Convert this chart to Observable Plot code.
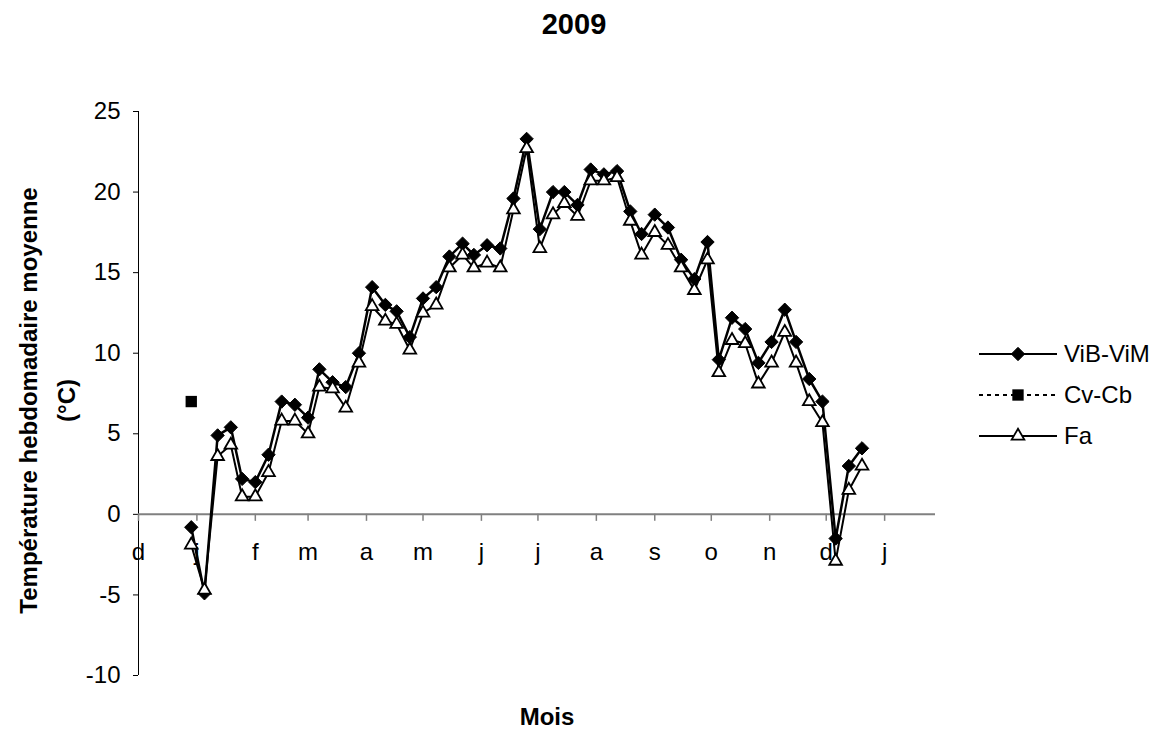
<!DOCTYPE html>
<html><head><meta charset="utf-8">
<script src="https://cdn.jsdelivr.net/npm/d3@7"></script>
<script src="https://cdn.jsdelivr.net/npm/@observablehq/plot@0.6"></script>
<style>
body{margin:0;background:#fff;font-family:"Liberation Sans",Arial,sans-serif;}
#wrap{position:relative;width:1169px;height:733px;overflow:hidden;background:#fff;}
#title{position:absolute;left:574px;top:24px;transform:translate(-50%,-50%);font-weight:bold;font-size:29px;white-space:nowrap;}
#chart{position:absolute;left:0;top:50px;}
.lrow{position:absolute;left:977px;height:30px;display:flex;align-items:center;font-size:24px;color:#000;white-space:nowrap;}
.lrow svg{margin-right:5px;}
</style></head><body>
<div id="wrap"><div id="title">2009</div><div id="chart"></div><div id="legend"></div></div>
<script>
// Weekly dates (read from x positions)
const dates = ["2008-12-29","2009-01-05","2009-01-12","2009-01-19","2009-01-25","2009-02-01","2009-02-08","2009-02-15","2009-02-22","2009-03-01",
"2009-03-07","2009-03-14","2009-03-21","2009-03-28","2009-04-04","2009-04-11","2009-04-17","2009-04-24","2009-05-01","2009-05-08",
"2009-05-15","2009-05-22","2009-05-28","2009-06-04","2009-06-11","2009-06-18","2009-06-25","2009-07-02","2009-07-09","2009-07-15",
"2009-07-22","2009-07-29","2009-08-05","2009-08-12","2009-08-19","2009-08-25","2009-09-01","2009-09-08","2009-09-15","2009-09-22",
"2009-09-29","2009-10-05","2009-10-12","2009-10-19","2009-10-26","2009-11-02","2009-11-09","2009-11-15","2009-11-22","2009-11-29",
"2009-12-06","2009-12-13","2009-12-20"];
const vibVim = [-0.8,-4.9,4.9,5.4,2.2,2.0,3.7,7.0,6.8,6.0,
9.0,8.2,7.9,10.0,14.1,13.0,12.6,11.0,13.4,14.1,
16.0,16.8,16.1,16.7,16.5,19.6,23.3,17.7,20.0,20.0,
19.2,21.4,21.1,21.3,18.8,17.4,18.6,17.8,15.8,14.6,
16.9,9.6,12.2,11.5,9.4,10.7,12.7,10.7,8.4,7.0,
-1.5,3.0,4.1];
const fa = [-1.9,-4.7,3.6,4.3,1.1,1.1,2.6,5.8,5.8,5.0,
7.9,7.8,6.6,9.4,12.9,12.0,11.8,10.2,12.5,13.0,
15.3,16.1,15.3,15.6,15.3,18.9,22.7,16.5,18.6,19.3,
18.5,20.7,20.7,20.9,18.2,16.1,17.5,16.7,15.3,13.9,
15.8,8.8,10.8,10.6,8.1,9.4,11.3,9.4,7.0,5.7,
-2.9,1.5,3.0];
const cvCbDates = ["2008-12-29"];
const cvCb = [7.0];
const monthTicks = ["2008-12-01","2009-01-01","2009-02-01","2009-03-01","2009-04-01","2009-05-01","2009-06-01",
"2009-07-01","2009-08-01","2009-09-01","2009-10-01","2009-11-01","2009-12-01","2010-01-01"];
const monthLabels = ["d","j","f","m","a","m","j","j","a","s","o","n","d","j"];
const yTicks = [-10,-5,0,5,10,15,20,25];
const seriesNames = ["ViB-ViM","Cv-Cb","Fa"];
const xDomain = ["2008-12-01","2010-01-28"];

const vibRows = dates.map((d,i)=>({date:new Date(d), value:vibVim[i]}));
const faRows = dates.map((d,i)=>({date:new Date(d), value:fa[i]}));
const cvRows = cvCbDates.map((d,i)=>({date:new Date(d), value:cvCb[i]}));
const tickDates = monthTicks.map(d=>new Date(d));

const font = "Liberation Sans, Arial, sans-serif";
const R = {diamond:6, square:6.4, triangle:4.7};

const chart = Plot.plot({
  width:1169, height:683,
  marginLeft:138, marginRight:234, marginTop:61, marginBottom:58,
  style:{fontFamily:font, fontSize:"24px", color:"black", background:"white", overflow:"visible"},
  x:{type:"utc", domain:xDomain.map(d=>new Date(d)), axis:null},
  y:{domain:[-10,25]},
  marks:[
    Plot.ruleX([new Date(xDomain[0])], {stroke:"black", strokeWidth:1}),
    Plot.axisY(yTicks, {anchor:"left", tickSize:5, tickPadding:13, fontSize:24, tickFormat:d=>String(d), label:null, stroke:"black"}),
    Plot.ruleY([0], {stroke:"#808080", strokeWidth:2}),
    Plot.ruleX(tickDates, {x:d=>d, y1:0, y2:0, insetBottom:-7, stroke:"#808080", strokeWidth:1.5}),
    Plot.text(tickDates, {x:d=>d, y:0, text:(d,i)=>monthLabels[i], dy:38, fontSize:24, lineAnchor:"middle", fill:"black"}),
    Plot.text(["Température hebdomadaire moyenne\n(°C)"], {text:d=>d, frameAnchor:"left", rotate:-90, dx:-95, dy:7, textAnchor:"middle", lineAnchor:"middle", lineHeight:1.6, fontWeight:"bold", fontSize:24, fill:"black"}),
    Plot.text(["Mois"], {text:d=>d, frameAnchor:"bottom", dx:10, dy:42, lineAnchor:"middle", fontWeight:"bold", fontSize:24, fill:"black"}),
    Plot.line(vibRows, {x:"date", y:"value", stroke:"black", strokeWidth:2.5}),
    Plot.dot(vibRows, {x:"date", y:"value", symbol:"diamond2", r:R.diamond, fill:"black", stroke:"black", strokeWidth:1}),
    Plot.dot(cvRows, {x:"date", y:"value", symbol:"square", r:R.square, fill:"black", stroke:"none"}),
    Plot.line(faRows, {x:"date", y:"value", stroke:"black", strokeWidth:2}),
    Plot.dot(faRows, {x:"date", y:"value", symbol:"triangle", r:R.triangle, fill:"white", stroke:"black", strokeWidth:1.8})
  ]
});
document.getElementById("chart").appendChild(chart);

// Legend
const legendItems = [
  {name:seriesNames[0], dash:null, sym:d3.symbolDiamond2, r:R.diamond, fill:"black", sw:1},
  {name:seriesNames[1], dash:"4,4", sym:d3.symbolSquare, r:R.square, fill:"black", sw:0},
  {name:seriesNames[2], dash:null, sym:d3.symbolTriangle, r:R.triangle, fill:"white", sw:1.8}
];
const rowY = [354, 395, 436];
const legend = d3.select("#legend");
legendItems.forEach((it,i)=>{
  const row = legend.append("div").attr("class","lrow").style("top",(rowY[i]-15)+"px");
  const svg = row.append("svg").attr("width",82).attr("height",30);
  svg.append("line").attr("x1",2).attr("x2",80).attr("y1",15).attr("y2",15)
     .attr("stroke","black").attr("stroke-width",2).attr("stroke-dasharray",it.dash);
  svg.append("path").attr("transform","translate(41,15)")
     .attr("d", d3.symbol(it.sym, Math.PI*it.r*it.r)())
     .attr("fill",it.fill).attr("stroke",it.sw?"black":"none").attr("stroke-width",it.sw);
  row.append("span").text(it.name);
});
</script>
</body></html>
